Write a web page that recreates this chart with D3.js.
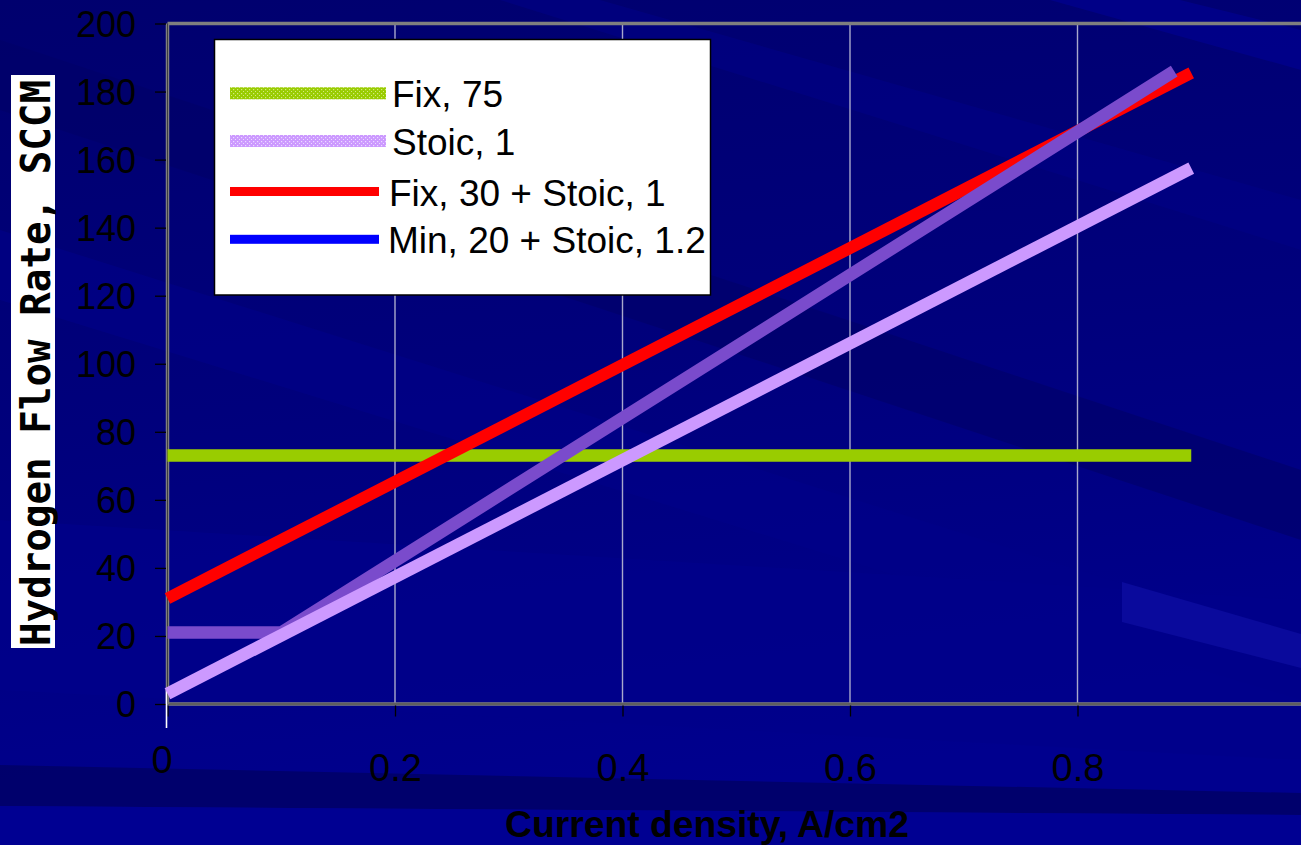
<!DOCTYPE html>
<html>
<head>
<meta charset="utf-8">
<script src="https://cdn.jsdelivr.net/npm/d3@7"></script>
<style>
  html, body { margin: 0; padding: 0; background: #000080; overflow: hidden; }
  svg { display: block; }
</style>
</head>
<body>
<svg id="chart" width="1301" height="845"></svg>
<script>
// ---------------- data ----------------
const seriesNames = ["Fix, 75", "Stoic, 1", "Fix, 30 + Stoic, 1", "Min, 20 + Stoic, 1.2"];
const fix75X = [0, 0.9];
const fix75Y = [73, 73];
const stoic1X = [0, 0.9];
const stoic1Y = [3, 157.5];
const fix30X = [0, 0.9];
const fix30Y = [31, 185.5];
const min20X = [0, 0.1, 0.885];
const min20Y = [21, 21, 186];
const xTicks = [0, 0.2, 0.4, 0.6, 0.8];
const xTickLabels = ["0", "0.2", "0.4", "0.6", "0.8"];
const yTicks = [0, 20, 40, 60, 80, 100, 120, 140, 160, 180, 200];
const xTitle = "Current density, A/cm2";
const yTitle = "Hydrogen Flow Rate, SCCM";

// ---------------- layout ----------------
const svg = d3.select("#chart");
const W = 1301, H = 845;
const x = d3.scaleLinear().domain([0, 0.8]).range([167.5, 1077.5]);
const y = d3.scaleLinear().domain([0, 200]).range([704, 23.5]);

// ---------------- background ----------------
const bg = svg.append("g");
const defs = svg.append("defs");
const grad = defs.append("linearGradient")
  .attr("id", "bgGrad").attr("x1", 0).attr("y1", 0).attr("x2", 0.2).attr("y2", 1);
grad.append("stop").attr("offset", "0%").attr("stop-color", "#00006e");
grad.append("stop").attr("offset", "50%").attr("stop-color", "#00007c");
grad.append("stop").attr("offset", "100%").attr("stop-color", "#00008e");
bg.append("rect").attr("width", W).attr("height", H).attr("fill", "url(#bgGrad)");
const bands = [
  {pts: [[0,40],[1301,470],[1301,540],[0,110]], c: "#000068", o: 0.6},
  {pts: [[0,230],[1301,640],[1301,700],[0,300]], c: "#000088", o: 0.6},
  {pts: [[600,0],[1301,200],[1301,250],[500,0]], c: "#000086", o: 0.6},
  {pts: [[1050,0],[1301,70],[1301,30],[1180,0]], c: "#000090", o: 0.7},
  {pts: [[0,520],[1301,600],[1301,760],[0,690]], c: "#00008a", o: 0.7},
  {pts: [[0,765],[1301,793],[1301,815],[0,806]], c: "#000068", o: 0.9},
  {pts: [[0,806],[1301,815],[1301,845],[0,845]], c: "#000092", o: 1},
  {pts: [[1122,582],[1301,634],[1301,668],[1122,622]], c: "#0a0a9c", o: 1}
];
bg.selectAll("polygon").data(bands).join("polygon")
  .attr("points", d => d.pts.map(p => p.join(",")).join(" "))
  .attr("fill", d => d.c).attr("opacity", d => d.o);

// patterns for legend
function dotPattern(id, base, dot) {
  const p = defs.append("pattern").attr("id", id).attr("patternUnits", "userSpaceOnUse")
    .attr("width", 4).attr("height", 4);
  p.append("rect").attr("width", 4).attr("height", 4).attr("fill", base);
  p.append("rect").attr("x", 1).attr("y", 1).attr("width", 1.2).attr("height", 1.2).attr("fill", dot);
  p.append("rect").attr("x", 3).attr("y", 3).attr("width", 1).attr("height", 1).attr("fill", dot);
}
dotPattern("patGreen", "#99cc00", "#d4eb80");
dotPattern("patLav", "#cc99ff", "#ecdcff");

// ---------------- grid ----------------
svg.append("g").selectAll("line").data(xTicks.filter(d => d > 0)).join("line")
  .attr("x1", d => x(d)).attr("x2", d => x(d))
  .attr("y1", y(200)).attr("y2", y(0))
  .attr("stroke", "#a8a8cc").attr("stroke-width", 1.4);

// plot border (top, left, bottom)
const border = svg.append("g");
border.append("line").attr("x1", x(0)).attr("x2", W).attr("y1", y(200)).attr("y2", y(200))
  .attr("stroke", "#7f7f7f").attr("stroke-width", 3.5);
border.append("line").attr("x1", x(0)).attr("x2", W).attr("y1", y(0)).attr("y2", y(0))
  .attr("stroke", "#7f7f7f").attr("stroke-width", 3.5);
border.append("line").attr("x1", x(0)).attr("x2", W).attr("y1", y(0)).attr("y2", y(0))
  .attr("stroke", "#404040").attr("stroke-width", 1);
border.append("line").attr("x1", x(0)).attr("x2", x(0)).attr("y1", y(200)).attr("y2", y(0))
  .attr("stroke", "#7f7f7f").attr("stroke-width", 3.5);
border.append("line").attr("x1", x(0)).attr("x2", x(0)).attr("y1", y(200)).attr("y2", y(0))
  .attr("stroke", "#404040").attr("stroke-width", 1);

// ---------------- axes ----------------
const yAxis = svg.append("g").attr("transform", `translate(${x(0) - 1.5},0)`)
  .call(d3.axisLeft(y).tickValues(yTicks).tickSize(11).tickPadding(19).tickFormat(d3.format("d")));
yAxis.select(".domain").remove();
yAxis.selectAll(".tick line").attr("stroke", "#000").attr("stroke-width", 1.3);
yAxis.selectAll(".tick text").attr("fill", "#000")
  .style("font-family", "'Liberation Sans', Arial, sans-serif").style("font-size", "36px")
  .attr("dy", "0.35em");

const xAxis = svg.append("g").attr("transform", `translate(0,${y(0) + 1.5})`)
  .call(d3.axisBottom(x).tickValues(xTicks).tickSize(11).tickPadding(30)
    .tickFormat((d, i) => xTickLabels[i]));
xAxis.select(".domain").remove();
xAxis.selectAll(".tick line").attr("stroke", "#000").attr("stroke-width", 1.3);
xAxis.selectAll(".tick text").attr("fill", "#000")
  .style("font-family", "'Liberation Sans', Arial, sans-serif").style("font-size", "38px")
  .attr("dy", (d) => d === 0 ? "0.71em" : "0.92em")
  .attr("dx", d => d === 0 ? -6 : 0);
// white tick at origin
svg.append("line").attr("x1", x(0) - 1).attr("x2", x(0) - 1).attr("y1", 690).attr("y2", 728)
  .attr("stroke", "#ffffff").attr("stroke-width", 1.6);

// ---------------- series ----------------
const line = d3.line().x(d => x(d[0])).y(d => y(d[1]));
const series = [
  {xs: fix75X, ys: fix75Y, color: "#99cc00", w: 12.5},
  {xs: fix30X, ys: fix30Y, color: "#ff0000", w: 12},
  {xs: min20X, ys: min20Y, color: "#7a4bcc", w: 12.5},
  {xs: stoic1X, ys: stoic1Y, color: "#cc99ff", w: 12.5}
];
svg.append("g").selectAll("path").data(series).join("path")
  .attr("d", s => line(s.xs.map((v, i) => [v, s.ys[i]])))
  .attr("fill", "none").attr("stroke", s => s.color).attr("stroke-width", s => s.w)
  .attr("stroke-linecap", "butt").attr("stroke-linejoin", "miter");

// ---------------- legend ----------------
const lg = svg.append("g");
lg.append("rect").attr("x", 214.5).attr("y", 39.5).attr("width", 496).attr("height", 255.5)
  .attr("fill", "#fff").attr("stroke", "#000").attr("stroke-width", 1.5);
const legendItems = [
  {name: seriesNames[0], fill: "url(#patGreen)", cy: 93.3, h: 12, x2: 386, tx: 392},
  {name: seriesNames[1], fill: "url(#patLav)", cy: 141, h: 12, x2: 386, tx: 392},
  {name: seriesNames[2], fill: "#ff0000", cy: 191.5, h: 9, x2: 379, tx: 389},
  {name: seriesNames[3], fill: "#0000ff", cy: 239.3, h: 9, x2: 379, tx: 388}
];
const li = lg.selectAll("g.item").data(legendItems).join("g").attr("class", "item");
li.append("rect").attr("x", 230).attr("y", d => d.cy - d.h / 2)
  .attr("width", d => d.x2 - 230).attr("height", d => d.h).attr("fill", d => d.fill);
li.append("text").attr("x", d => d.tx).attr("y", d => d.cy + 14)
  .text(d => d.name).attr("fill", "#000")
  .style("font-family", "'Liberation Sans', Arial, sans-serif").style("font-size", "37px");

// ---------------- titles ----------------
svg.append("text").attr("x", 707).attr("y", 837).attr("text-anchor", "middle")
  .attr("textLength", 404).attr("lengthAdjust", "spacingAndGlyphs")
  .style("font-family", "'Liberation Sans Narrow', 'Liberation Sans', Arial, sans-serif")
  .style("font-size", "37px").style("font-weight", "bold").attr("fill", "#000").text(xTitle);

svg.append("rect").attr("x", 11).attr("y", 75).attr("width", 44).attr("height", 573).attr("fill", "#fff");
svg.append("text").attr("transform", "translate(50,646) rotate(-90)")
  .attr("textLength", 566).attr("lengthAdjust", "spacingAndGlyphs")
  .style("font-family", "'DejaVu Sans Mono', monospace").style("font-weight", "bold")
  .style("font-size", "40px").attr("fill", "#000").text(yTitle);
</script>
</body>
</html>
